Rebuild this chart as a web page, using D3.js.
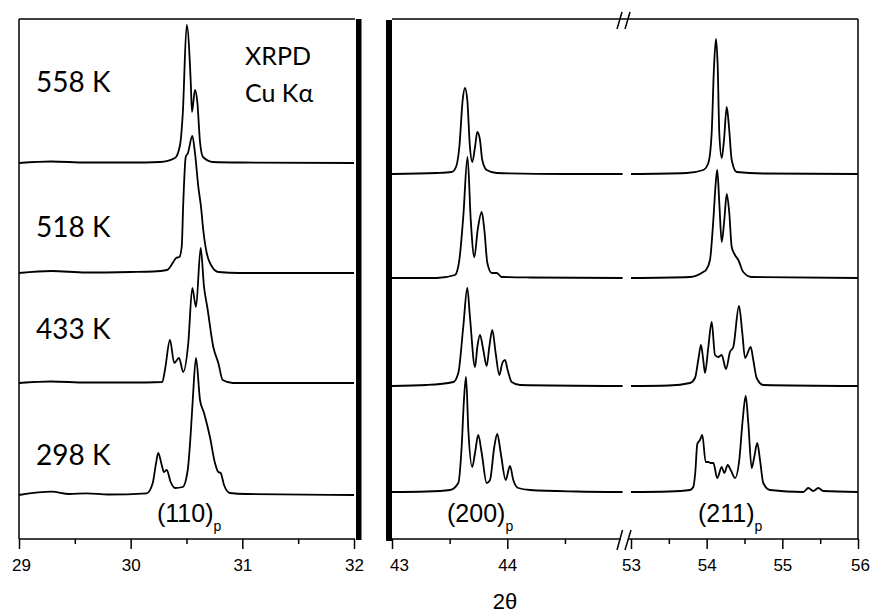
<!DOCTYPE html>
<html>
<head>
<meta charset="utf-8">
<script src="https://cdn.jsdelivr.net/npm/d3@7"></script>
<style>
  body { margin: 0; background: #fff; }
  svg { display: block; }
</style>
</head>
<body>
<svg id="chart" width="871" height="613"></svg>
<script>
// temperatures, top to bottom
var temps = ['558 K', '518 K', '433 K', '298 K'];
// vertical offsets of each pattern (a.u.)
var offsetsLeft = [376, 266, 156, 44];
var offsetsRight = [365, 261, 153, 47];

var ticksLeft = [29, 30, 31, 32];
var minorLeft = [29.5, 30.5, 31.5];
var ticksA = [43, 44];
var minorA = [43.5, 44.5];
var ticksB = [53, 54, 55, 56];
var minorB = [53.5, 54.5, 55.5];

// (110)p region, [2theta, intensity]
var s558_110 = [[29.0,0],[29.29,1.5],[29.6,0.5],[30.0,0.5],[30.263,1],[30.397,5],[30.442,18],[30.466,48],[30.502,138],[30.538,81],[30.549,51],[30.576,73],[30.597,61],[30.621,21],[30.648,6],[30.737,1],[31.0,0.5],[32.0,0]];
var s518_110 = [[29.0,0],[29.29,2],[29.6,0.5],[30.0,1],[30.2,1.5],[30.325,3],[30.382,11],[30.406,15],[30.436,16],[30.457,26],[30.471,70],[30.493,116],[30.513,120],[30.552,137],[30.576,120],[30.606,86],[30.630,66],[30.650,43],[30.681,20],[30.710,10],[30.785,1],[30.979,0],[32.0,0]];
var s433_110 = [[29.0,0],[29.29,1.5],[29.6,0.5],[30.0,0.5],[30.283,1],[30.307,13],[30.352,43],[30.39,20],[30.433,25],[30.471,11],[30.516,40],[30.552,95],[30.585,76],[30.627,135],[30.657,96],[30.686,76],[30.740,36],[30.785,20],[30.824,3],[30.916,0],[32.0,0]];
var s298_110 = [[29.0,0],[29.293,3.3],[29.45,1],[29.606,1.7],[29.8,0.5],[30.144,1.7],[30.197,11.7],[30.227,31.7],[30.247,42],[30.278,30],[30.298,23],[30.323,25],[30.358,13],[30.397,7],[30.466,8],[30.511,25],[30.538,62],[30.556,95],[30.585,137],[30.621,95],[30.657,82],[30.710,58],[30.755,32],[30.785,23],[30.806,22],[30.836,10],[30.889,2],[31.039,1],[32.0,0]];

// (200)p region
var s558_200 = [[43.0,0],[43.388,1],[43.518,2],[43.555,7],[43.584,27],[43.613,74],[43.633,86],[43.653,74],[43.676,27],[43.696,12],[43.720,27],[43.740,42],[43.763,34],[43.783,14],[43.821,4],[43.908,1],[44.5,0],[45.0,0]];
var s518_200 = [[43.0,0],[43.388,0],[43.546,3],[43.584,18],[43.618,61],[43.655,121],[43.683,58],[43.714,21],[43.743,48],[43.778,66],[43.801,48],[43.827,15],[43.865,5],[43.908,5],[43.951,1],[44.197,0.5],[45.0,0]];
var s433_200 = [[43.0,0],[43.3,1],[43.532,4],[43.575,13],[43.618,59],[43.653,98],[43.676,69],[43.720,19],[43.740,39],[43.763,51],[43.792,36],[43.821,20],[43.844,39],[43.870,56],[43.899,33],[43.931,11],[43.957,23],[43.980,26],[44.003,16],[44.038,4],[44.110,1],[45.0,0]];
var s298_200 = [[43.0,0],[43.3,0.5],[43.503,2],[43.575,9],[43.604,45],[43.624,92],[43.642,115],[43.662,62],[43.696,25],[43.720,39],[43.748,57],[43.778,39],[43.821,9],[43.850,12],[43.887,45],[43.913,58],[43.943,39],[43.986,12],[44.023,26],[44.052,12],[44.095,4],[44.197,2],[44.6,0.5],[45.0,0]];

// (211)p region
var s558_211 = [[53.0,0],[53.736,1],[53.955,4],[54.022,11],[54.066,41],[54.097,107],[54.123,135],[54.146,107],[54.167,41],[54.199,16],[54.229,34],[54.265,67],[54.295,47],[54.331,14],[54.397,2],[54.748,0.5],[56.0,0]];
var s518_211 = [[53.0,0],[53.78,1],[53.955,6],[53.991,8],[54.044,18],[54.088,58],[54.123,98],[54.140,108],[54.167,75],[54.199,36],[54.233,58],[54.265,84],[54.299,65],[54.331,31],[54.374,23],[54.418,18],[54.484,6],[54.595,1],[56.0,0]];
var s433_211 = [[53.0,0],[53.5,0.5],[53.78,3],[53.846,8],[53.889,26],[53.925,41],[53.955,26],[53.978,13],[54.022,39],[54.066,64],[54.110,31],[54.154,29],[54.199,31],[54.255,17],[54.308,34],[54.352,39],[54.427,80],[54.471,53],[54.507,28],[54.582,39],[54.616,26],[54.661,8],[54.748,1],[56.0,0]];
var s298_211 = [[53.0,0],[53.5,0.5],[53.780,2],[53.823,5],[53.850,20],[53.876,48],[53.912,52],[53.942,57],[53.987,30],[54.022,30],[54.053,29],[54.088,29],[54.140,14],[54.199,25],[54.233,19],[54.278,27],[54.318,22],[54.374,14],[54.431,32],[54.476,72],[54.516,96],[54.550,69],[54.595,24],[54.629,35],[54.669,49],[54.705,32],[54.748,9],[54.837,2],[55.277,0],[55.343,4],[55.409,1],[55.475,4],[55.541,1],[56.0,0]];

var left110 = [s558_110, s518_110, s433_110, s298_110];
var right200 = [s558_200, s518_200, s433_200, s298_200];
var right211 = [s558_211, s518_211, s433_211, s298_211];

var svg = d3.select('#chart');
var plotTop = 19, plotBottom = 539;
var sansFont = "'Liberation Sans', Arial, sans-serif";
var labelFont = "Lato, 'Open Sans', sans-serif";

var xL = d3.scaleLinear().domain([29, 32]).range([19, 354]);
var xA = d3.scaleLinear().domain([43, 45]).range([392, 622.6]);
var xB = d3.scaleLinear().domain([53, 56]).range([631, 858]);
var y = d3.scaleLinear().domain([0, 520]).range([plotBottom, plotTop]);

function drawTraces(data, offsets, x) {
    var line = d3.line()
        .x(function(d) { return x(d[0]); })
        .curve(d3.curveMonotoneX);
    data.forEach(function(s, i) {
        line.y(function(d) { return y(offsets[i] + d[1]); });
        svg.append('path')
            .attr('d', line(s))
            .attr('fill', 'none')
            .attr('stroke', '#000')
            .attr('stroke-width', 1.8)
            .attr('stroke-linejoin', 'round');
    });
}

drawTraces(left110, offsetsLeft, xL);
drawTraces(right200, offsetsRight, xA);
drawTraces(right211, offsetsRight, xB);

function drawAxis(x, major, minor) {
    var g = svg.append('g').attr('transform', 'translate(0,' + plotBottom + ')');
    g.call(d3.axisBottom(x).tickValues(major).tickSize(10).tickSizeOuter(0).tickFormat(d3.format('d')));
    g.append('g').call(d3.axisBottom(x).tickValues(minor).tickSize(5).tickFormat(''));
    g.selectAll('.domain').remove();
    g.selectAll('line').attr('stroke', '#000').attr('stroke-width', 1.5);
    g.selectAll('text')
        .attr('font-family', sansFont)
        .attr('font-size', 17)
        .attr('fill', '#000')
        .attr('y', 20);
    return g;
}

var gL = drawAxis(xL, ticksLeft, minorLeft);
var gA = drawAxis(xA, ticksA, minorA);
var gB = drawAxis(xB, ticksB, minorB);
gA.selectAll('.tick text').filter(function(d) { return d === 43; }).attr('dx', 7);
gL.selectAll('.tick text').filter(function(d) { return d === 29; }).attr('dx', 2);
gB.selectAll('.tick text').filter(function(d) { return d === 56; }).attr('dx', 2);

// frames
function hline(x0, x1, yy, w) {
    svg.append('line').attr('x1', x0).attr('x2', x1).attr('y1', yy).attr('y2', yy)
        .attr('stroke', '#000').attr('stroke-width', w || 1.5);
}
function vline(xx, y0, y1, w) {
    svg.append('line').attr('x1', xx).attr('x2', xx).attr('y1', y0).attr('y2', y1)
        .attr('stroke', '#000').attr('stroke-width', w || 1.5);
}
hline(19, 355, plotTop);
hline(19, 355, plotBottom);
vline(19, plotTop, plotBottom);
svg.append('rect').attr('x', 356).attr('y', plotTop).attr('width', 5.5)
    .attr('height', plotBottom - plotTop + 1).attr('fill', '#000');

hline(392, 858, plotTop);
hline(392, 621, plotBottom);
hline(628, 858, plotBottom);
vline(858, plotTop, plotBottom);
svg.append('rect').attr('x', 386).attr('y', plotTop + 1).attr('width', 6)
    .attr('height', plotBottom - plotTop + 1).attr('fill', '#000');

// axis break marks
[[617, 622], [625, 630]].forEach(function(p) {
    svg.append('line').attr('x1', p[0]).attr('y1', 29).attr('x2', p[1]).attr('y2', 12)
        .attr('stroke', '#000').attr('stroke-width', 1.5);
});
[[617, 622.5], [625, 631]].forEach(function(p) {
    svg.append('line').attr('x1', p[0]).attr('y1', 550).attr('x2', p[1]).attr('y2', 530)
        .attr('stroke', '#000').attr('stroke-width', 1.5);
});

// temperature labels
var labelY = [92, 237, 339, 465];
svg.selectAll('text.temp')
    .data(temps)
    .enter().append('text')
    .attr('class', 'temp')
    .attr('x', 36)
    .attr('y', function(d, i) { return labelY[i]; })
    .attr('font-family', labelFont)
    .attr('font-size', 28)
    .attr('fill', '#000')
    .text(function(d) { return d; });

svg.append('text').attr('x', 245).attr('y', 65)
    .attr('font-family', labelFont).attr('font-size', 25)
    .text('XRPD');
svg.append('text').attr('x', 245).attr('y', 102)
    .attr('font-family', labelFont).attr('font-size', 25)
    .text('Cu Kα');

// reflection labels
function hkl(xx, label) {
    var t = svg.append('text').attr('x', xx).attr('y', 522)
        .attr('font-family', sansFont).attr('font-size', 25)
        .attr('fill', '#000');
    t.append('tspan').text(label);
    t.append('tspan').attr('font-size', 14).attr('dy', 9).text('p');
}
hkl(157, '(110)');
hkl(447, '(200)');
hkl(698, '(211)');

svg.append('text').attr('x', 505).attr('y', 609)
    .attr('text-anchor', 'middle')
    .attr('font-family', sansFont).attr('font-size', 22)
    .text('2θ');
</script>
</body>
</html>
